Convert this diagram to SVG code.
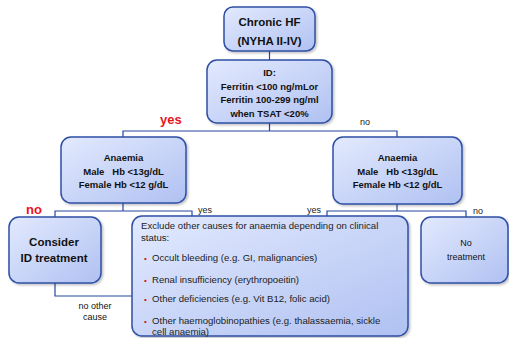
<svg xmlns="http://www.w3.org/2000/svg" width="509" height="338" viewBox="0 0 509 338">
<defs>
<linearGradient id="g" x1="0" y1="0" x2="1" y2="1">
<stop offset="0" stop-color="#e3eafe"/>
<stop offset="1" stop-color="#b0c1f2"/>
</linearGradient>
<filter id="sh" x="-10%" y="-10%" width="125%" height="130%">
<feDropShadow dx="1.5" dy="1.5" stdDeviation="1" flood-color="#000" flood-opacity="0.25"/>
</filter>
</defs>
<style>
.box{fill:url(#g);stroke:#2f4fa5;stroke-width:1.5;filter:url(#sh)}
.c{fill:none;stroke:#2447a0;stroke-width:1.2}
text{font-family:"Liberation Sans",Arial,sans-serif;fill:#111}
.b{font-weight:bold;text-anchor:middle}
.n{text-anchor:middle;font-size:9px}
.red{fill:#e8141c;font-weight:bold;font-size:13px}
.s{font-size:9px;fill:#222}
.e{font-size:9.6px;fill:#222}
.bul{fill:#d01020;font-size:8px}
</style>
<rect width="509" height="338" fill="#fff"/>
<g id="connectors">
<path class="c" d="M269.5 51V60"/>
<path class="c" d="M269.5 123V131M123 138V131H397V138"/>
<path class="c" d="M123 203V211M55 217V211H192V216"/>
<path class="c" d="M397 204V211M327 216V211H466V217"/>
<path class="c" d="M55 283V296H133"/>
</g>
<g id="chronic">
<rect class="box" x="224" y="7" width="91" height="44" rx="9"/>
<text class="b" x="269.5" y="26" font-size="11.5">Chronic HF</text>
<text class="b" x="269.5" y="45" font-size="11.5">(NYHA II-IV)</text>
</g>
<g id="id">
<rect class="box" x="207" y="60" width="125" height="63" rx="10"/>
<text class="b" x="269.5" y="75.5" font-size="9.5">ID:</text>
<text class="b" x="269.5" y="90" font-size="9.5">Ferritin &lt;100 ng/mLor</text>
<text class="b" x="269.5" y="103" font-size="9.5">Ferritin 100-299 ng/ml</text>
<text class="b" x="269.5" y="116.5" font-size="9.5">when TSAT &lt;20%</text>
</g>
<text class="red" x="160" y="124">yes</text>
<text class="s" x="360" y="125">no</text>
<g id="anaemia-left">
<rect class="box" x="61" y="137" width="125" height="66" rx="10"/>
<text class="b" x="123.5" y="160.5" font-size="9.5">Anaemia</text>
<text class="b" x="123.5" y="175" font-size="9.5" xml:space="preserve">Male   Hb &lt;13g/dL</text>
<text class="b" x="123.5" y="188" font-size="9.5">Female Hb &lt;12 g/dL</text>
</g>
<g id="anaemia-right">
<rect class="box" x="333" y="137" width="129" height="67" rx="10"/>
<text class="b" x="397.5" y="160.5" font-size="9.5">Anaemia</text>
<text class="b" x="397.5" y="175" font-size="9.5" xml:space="preserve">Male   Hb &lt;13g/dL</text>
<text class="b" x="397.5" y="188" font-size="9.5">Female Hb &lt;12 g/dL</text>
</g>
<text class="red" x="26" y="214">no</text>
<text class="s" x="198" y="213">yes</text>
<text class="s" x="307" y="213">yes</text>
<text class="s" x="473" y="214">no</text>
<g id="consider">
<rect class="box" x="9" y="217" width="92" height="66" rx="10"/>
<text class="b" x="54" y="246" font-size="11.5">Consider</text>
<text class="b" x="54" y="262" font-size="11.5">ID treatment</text>
</g>
<g id="exclude">
<rect class="box" x="132" y="216" width="276" height="120" rx="10"/>
<text class="e" x="141" y="229">Exclude other causes for anaemia depending on clinical</text>
<text class="e" x="141" y="241">status:</text>
<text class="bul" x="144" y="261">•</text>
<text class="e" x="152" y="261">Occult bleeding (e.g. GI, malignancies)</text>
<text class="bul" x="144" y="283">•</text>
<text class="e" x="152" y="283">Renal insufficiency (erythropoeitin)</text>
<text class="bul" x="144" y="302">•</text>
<text class="e" x="152" y="302">Other deficiencies (e.g. Vit B12, folic acid)</text>
<text class="bul" x="144" y="324">•</text>
<text class="e" x="152" y="324">Other haemoglobinopathies (e.g. thalassaemia, sickle</text>
<text class="e" x="152" y="334.5">cell anaemia)</text>
</g>
<g id="no-treatment">
<rect class="box" x="421" y="217" width="87" height="66" rx="10"/>
<text class="n" x="466" y="246">No</text>
<text class="n" x="466" y="260">treatment</text>
</g>
<text class="n" x="95" y="309" fill="#222">no other</text>
<text class="n" x="95" y="320" fill="#222">cause</text>
</svg>
